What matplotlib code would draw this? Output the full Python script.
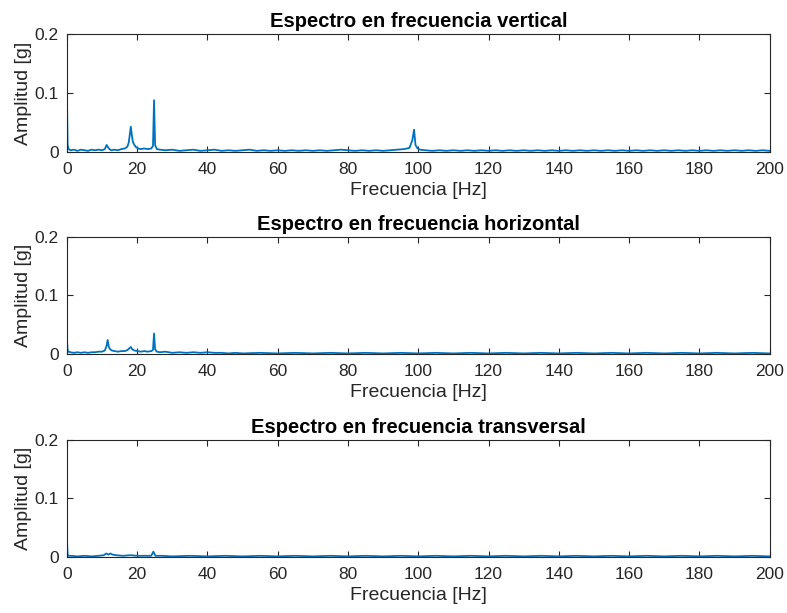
import matplotlib
matplotlib.use('Agg')
import matplotlib.pyplot as plt

# ── 스펙트럼 데이터 (주파수 [Hz], 진폭 [g]) ──────────────────────
# 수직 방향
freq_v = [0, 0.2, 0.5, 1, 2, 3, 4, 5, 6, 7,
          8, 9, 10, 10.8, 11.3, 11.7, 12.1, 12.6, 13.5, 14.5,
          15.5, 16.5, 17.2, 17.6, 17.9, 18.2, 18.5, 18.8, 19.2, 19.7,
          20.3, 21, 22, 23, 24, 24.5, 24.8, 25.1, 25.6, 26.5,
          28, 30, 32, 34, 36, 38, 40, 42, 44, 46,
          48, 50, 52, 54, 56, 58, 60, 62, 64, 66,
          68, 70, 72, 74, 76, 78, 80, 82, 84, 86,
          88, 90, 92, 94, 96, 97.5, 98.3, 98.8, 99.2, 99.8,
          100.5, 102, 104, 106, 108, 110, 112, 114, 116, 118,
          120, 122, 124, 126, 128, 130, 132, 134, 136, 138,
          140, 142, 144, 146, 148, 150, 152, 154, 156, 158,
          160, 162, 164, 166, 168, 170, 172, 174, 176, 178,
          180, 182, 184, 186, 188, 190, 192, 194, 196, 198,
          200]
amp_v = [0.1, 0.012, 0.005, 0.003, 0.004, 0.002, 0.004, 0.003, 0.002, 0.004,
         0.003, 0.004, 0.003, 0.005, 0.012, 0.008, 0.005, 0.003, 0.004, 0.003,
         0.005, 0.006, 0.009, 0.016, 0.03, 0.043, 0.028, 0.017, 0.012, 0.008,
         0.006, 0.005, 0.006, 0.005, 0.006, 0.01, 0.088, 0.012, 0.005, 0.004,
         0.003, 0.004, 0.002, 0.003, 0.004, 0.002, 0.003, 0.004, 0.002, 0.003,
         0.002, 0.003, 0.004, 0.002, 0.003, 0.002, 0.003, 0.002, 0.003, 0.002,
         0.003, 0.002, 0.003, 0.002, 0.003, 0.004, 0.003, 0.002, 0.003, 0.002,
         0.003, 0.002, 0.003, 0.004, 0.005, 0.007, 0.02, 0.038, 0.012, 0.006,
         0.004, 0.003, 0.002, 0.003, 0.002, 0.003, 0.002, 0.003, 0.002, 0.003,
         0.002, 0.003, 0.002, 0.003, 0.002, 0.003, 0.002, 0.003, 0.002, 0.003,
         0.002, 0.003, 0.002, 0.003, 0.002, 0.003, 0.002, 0.003, 0.002, 0.003,
         0.002, 0.003, 0.002, 0.003, 0.002, 0.003, 0.002, 0.003, 0.002, 0.003,
         0.002, 0.003, 0.002, 0.003, 0.002, 0.003, 0.002, 0.003, 0.002, 0.003,
         0.002]

# 수평 방향
freq_h = [0, 0.2, 0.5, 1, 2, 3, 4, 5, 6, 7,
          8, 9, 10, 10.8, 11.3, 11.6, 11.9, 12.3, 12.8, 13.5,
          14.5, 15.5, 16.5, 17.3, 17.8, 18.2, 18.6, 19.2, 20, 21,
          22, 23, 24, 24.5, 24.8, 25.1, 25.6, 26.5, 28, 30,
          32, 34, 36, 38, 40, 42, 44, 46, 48, 50,
          55, 60, 65, 70, 75, 80, 85, 90, 95, 100,
          105, 110, 115, 120, 125, 130, 135, 140, 145, 150,
          155, 160, 165, 170, 175, 180, 185, 190, 195, 200]
amp_h = [0.025, 0.006, 0.004, 0.003, 0.002, 0.003, 0.002, 0.003, 0.002, 0.003,
         0.003, 0.004, 0.004, 0.006, 0.014, 0.024, 0.013, 0.008, 0.006, 0.005,
         0.004, 0.005, 0.005, 0.007, 0.01, 0.012, 0.008, 0.006, 0.005, 0.004,
         0.005, 0.004, 0.005, 0.007, 0.035, 0.008, 0.004, 0.003, 0.004, 0.002,
         0.003, 0.002, 0.003, 0.002, 0.003, 0.002, 0.002, 0.001, 0.002, 0.001,
         0.002, 0.001, 0.002, 0.001, 0.002, 0.001, 0.002, 0.001, 0.002, 0.001,
         0.002, 0.001, 0.002, 0.001, 0.002, 0.001, 0.002, 0.001, 0.002, 0.001,
         0.002, 0.001, 0.002, 0.001, 0.002, 0.001, 0.002, 0.001, 0.002, 0.001]

# 횡 방향
freq_t = [0, 0.2, 0.5, 1, 3, 5, 7, 9, 10.5, 11.2,
          11.8, 12.4, 13, 14, 16, 18, 20, 22, 24, 24.6,
          25.2, 27, 30, 35, 40, 45, 50, 55, 60, 65,
          70, 75, 80, 85, 90, 95, 100, 105, 110, 115,
          120, 125, 130, 135, 140, 145, 150, 155, 160, 165,
          170, 175, 180, 185, 190, 195, 200]
amp_t = [0.03, 0.004, 0.002, 0.002, 0.001, 0.002, 0.001, 0.002, 0.003, 0.006,
         0.004, 0.006, 0.004, 0.003, 0.002, 0.003, 0.002, 0.002, 0.002, 0.009,
         0.002, 0.002, 0.001, 0.002, 0.001, 0.002, 0.001, 0.002, 0.001, 0.002,
         0.001, 0.002, 0.001, 0.002, 0.001, 0.002, 0.001, 0.002, 0.001, 0.002,
         0.001, 0.002, 0.001, 0.002, 0.001, 0.002, 0.001, 0.002, 0.001, 0.002,
         0.001, 0.002, 0.001, 0.002, 0.001, 0.002, 0.001]

titles = ['Espectro en frecuencia vertical',
          'Espectro en frecuencia horizontal',
          'Espectro en frecuencia transversal']
x_ticks = list(range(0, 201, 20))
y_ticks = [0, 0.1, 0.2]

LINE_COLOR = '#0072BD'
TEXT_COLOR = '#262626'

plt.rcParams['font.family'] = ['Liberation Sans', 'DejaVu Sans']

fig = plt.figure(figsize=(7.87, 6.13), dpi=100)

# 축 위치 (left, bottom, width, height)
positions = [(0.085, 0.752, 0.893, 0.192),
             (0.085, 0.4225, 0.893, 0.191),
             (0.085, 0.0914, 0.893, 0.191)]

series = [(freq_v, amp_v), (freq_h, amp_h), (freq_t, amp_t)]

for pos, (f, a), title in zip(positions, series, titles):
    ax = fig.add_axes(pos)
    ax.plot(f, a, color=LINE_COLOR, linewidth=1.3)
    ax.set_xlim(0, 200)
    ax.set_ylim(0, 0.2)
    ax.set_xticks(x_ticks)
    ax.set_yticks(y_ticks)
    ax.set_yticklabels(['0', '0.1', '0.2'])
    ax.tick_params(direction='in', length=4, width=0.8, colors=TEXT_COLOR,
                   labelsize=12.5, top=True, right=True, pad=6)
    ax.tick_params(axis='x', pad=7)
    for sp in ax.spines.values():
        sp.set_color(TEXT_COLOR)
        sp.set_linewidth(0.8)
    ax.set_xlabel('Frecuencia [Hz]', fontsize=14, color=TEXT_COLOR, labelpad=4)
    ax.set_ylabel('Amplitud [g]', fontsize=14, color=TEXT_COLOR, labelpad=2)
    ax.set_title(title, fontsize=14.5, fontweight='bold', color='black', pad=5)

fig.savefig('out.png', dpi=100)
